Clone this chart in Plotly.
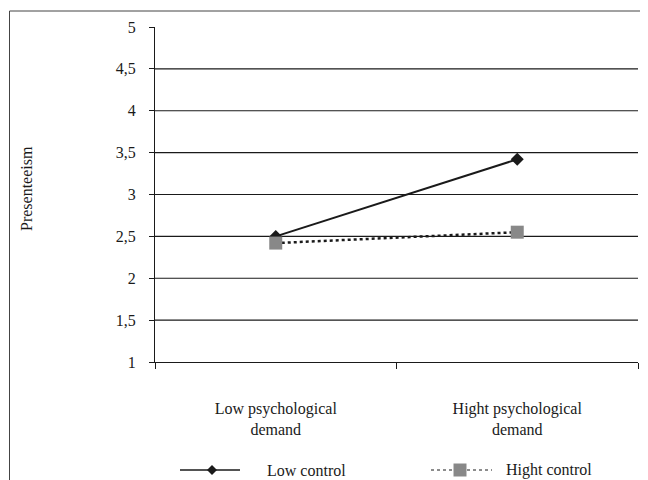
import plotly.graph_objects as go

categories = ["Low psychological<br>demand", "Hight psychological<br>demand"]
low_control = [2.5, 3.42]
hight_control = [2.42, 2.55]
series_names = ["Low control", "Hight control"]
y_ticks = [1, 1.5, 2, 2.5, 3, 3.5, 4, 4.5, 5]
y_ticklabels = ["1", "1,5", "2", "2,5", "3", "3,5", "4", "4,5", "5"]

FONT = "Liberation Serif"
W, H = 648, 480
O = 8  # page offset of the figure inside the browser window
SL, SR, ST, SB = 155, 638, 27, 362
L, T = SL - O, ST - O
R = W - (SR - O)
B = H - (SB - O)
pw, ph = W - L - R, H - T - B

def px(x):
    return (x - SL) / pw

def py(y):
    return (SB - y) / ph

fig = go.Figure()
fig.add_trace(go.Scatter(x=categories, y=low_control, mode="lines+markers",
                         line=dict(color="#1a1a1a", width=2),
                         marker=dict(symbol="diamond", size=10, color="#1a1a1a"),
                         showlegend=False, name=series_names[0], cliponaxis=False))
fig.add_trace(go.Scatter(x=categories, y=hight_control, mode="lines+markers",
                         line=dict(color="#1a1a1a", width=2.5, dash="dot"),
                         marker=dict(symbol="square", size=13, color="#888888"),
                         showlegend=False, name=series_names[1], cliponaxis=False))

shapes = []
for v in y_ticks[1:-1]:
    shapes.append(dict(type="line", xref="paper", yref="y", x0=0, x1=1, y0=v, y1=v,
                       line=dict(color="#1a1a1a", width=1.2), layer="below"))
shapes.append(dict(type="line", xref="paper", yref="paper", x0=px(9.5), x1=px(9.5),
                   y0=py(11), y1=py(500), line=dict(color="#444", width=1)))
shapes.append(dict(type="line", xref="paper", yref="paper", x0=px(9.5), x1=px(670),
                   y0=py(11), y1=py(11), line=dict(color="#444", width=1)))
ly = py(470)
shapes.append(dict(type="line", xref="paper", yref="paper", x0=px(180), x1=px(240),
                   y0=ly, y1=ly, line=dict(color="#1a1a1a", width=1.5)))
d = 5
shapes.append(dict(type="path", xref="paper", yref="paper",
                   path=f"M {px(212-d)} {ly} L {px(212)} {py(470-d)} L {px(212+d)} {ly} L {px(212)} {py(470+d)} Z",
                   fillcolor="#1a1a1a", line=dict(width=0)))
shapes.append(dict(type="line", xref="paper", yref="paper", x0=px(431), x1=px(492),
                   y0=ly, y1=ly, line=dict(color="#1a1a1a", width=1, dash="dot")))
s = 6.5
shapes.append(dict(type="rect", xref="paper", yref="paper", x0=px(460-s), x1=px(460+s),
                   y0=py(470+s), y1=py(470-s), fillcolor="#888888", line=dict(width=0)))

annotations = [
    dict(text="Presenteeism", xref="paper", yref="paper", x=px(26), y=py(189),
         xanchor="center", yanchor="middle",
         textangle=-90, showarrow=False, font=dict(family=FONT, size=16, color="#1a1a1a")),
    dict(text=series_names[0], xref="paper", yref="paper", x=px(265), y=ly, xanchor="left",
         yanchor="middle", showarrow=False, font=dict(family=FONT, size=16, color="#1a1a1a")),
    dict(text=series_names[1], xref="paper", yref="paper", x=px(504), y=ly, xanchor="left",
         yanchor="middle", showarrow=False, font=dict(family=FONT, size=16, color="#1a1a1a")),
]

fig.update_layout(
    width=W, height=H, margin=dict(l=L, r=R, t=T, b=B, autoexpand=False),
    paper_bgcolor="white", plot_bgcolor="white",
    font=dict(family=FONT, size=16, color="#1a1a1a"),
    shapes=shapes, annotations=annotations, showlegend=False,
)
fig.update_xaxes(type="category", range=[-0.5, 1.5], tickson="boundaries", ticks="outside",
                 ticklen=6, tickcolor="#1a1a1a", showline=True, linecolor="#1a1a1a",
                 linewidth=1.2, showgrid=False, zeroline=False, ticklabelstandoff=32,
                 automargin=False,
                 tickfont=dict(family=FONT, size=16, color="#1a1a1a"))
fig.update_yaxes(range=[1, 5], tickvals=y_ticks, ticktext=y_ticklabels, ticks="outside",
                 ticklen=5, tickcolor="#1a1a1a", showline=True, linecolor="#1a1a1a",
                 linewidth=1.2, showgrid=False, zeroline=False, ticklabelstandoff=10,
                 automargin=False,
                 tickfont=dict(family=FONT, size=16, color="#1a1a1a"))

fig.write_html("out.html")
